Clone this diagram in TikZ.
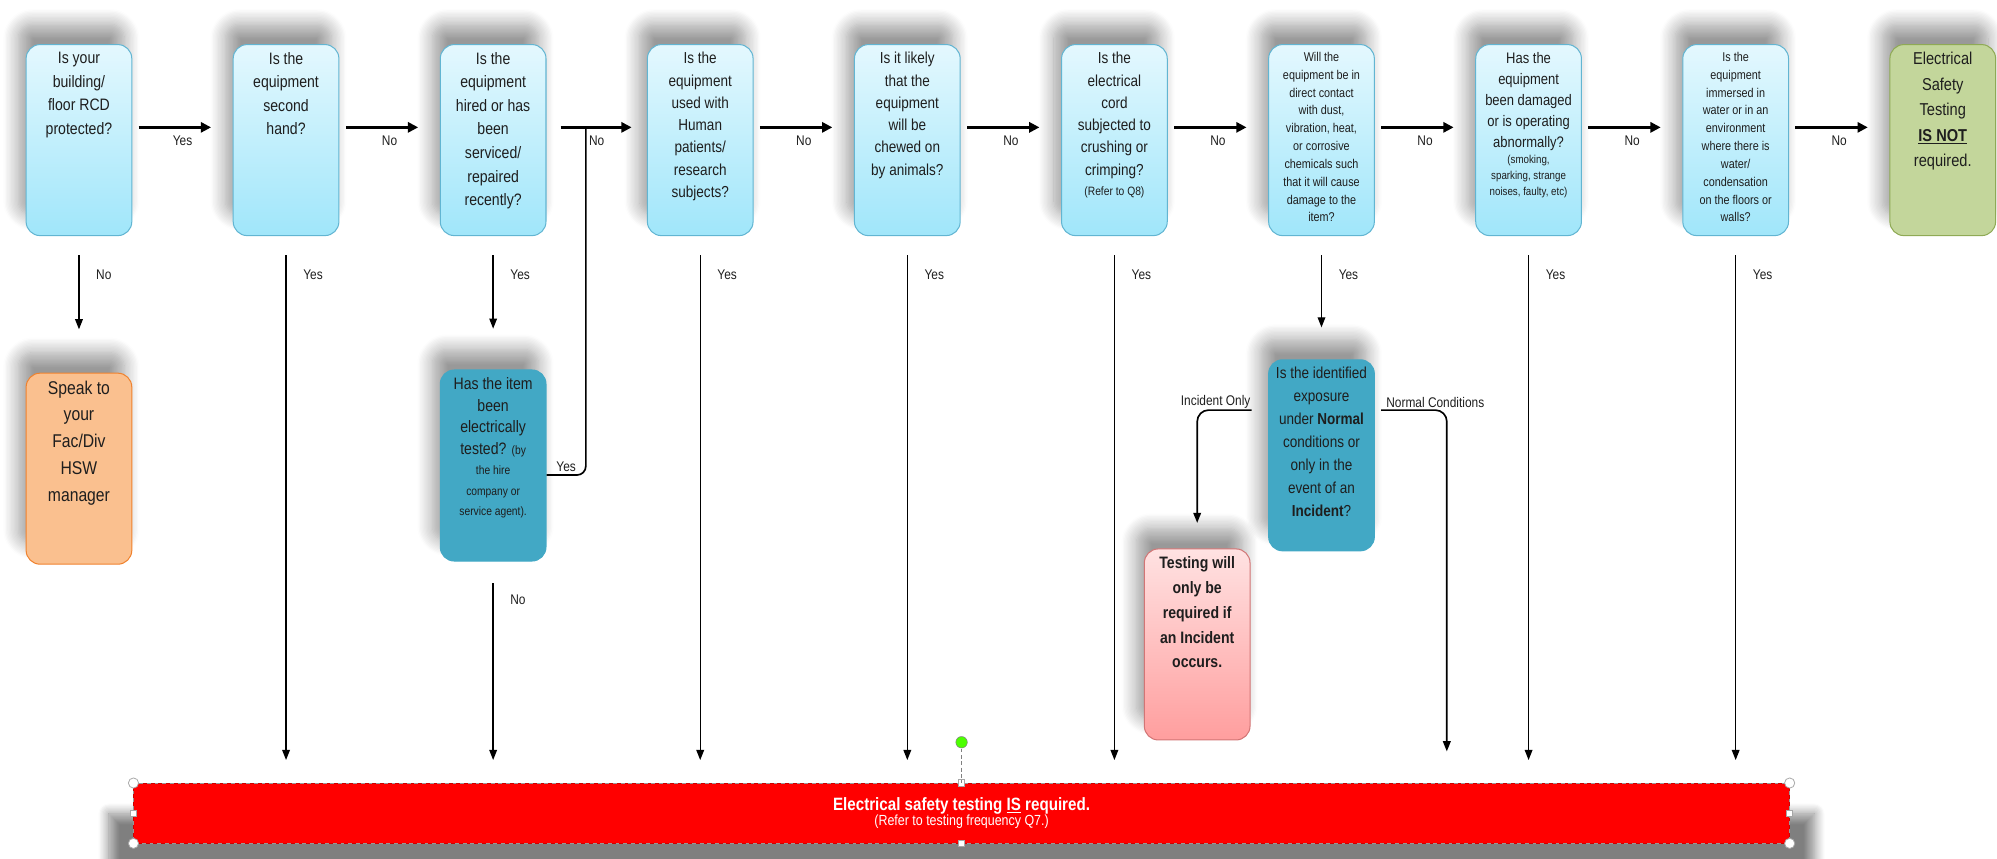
\documentclass[tikz,border=0pt]{standalone}
\usepackage{fontspec}
\setmainfont{Liberation Sans}[FakeStretch=0.85]
\usetikzlibrary{arrows.meta,shadows.blur}

\definecolor{qtop}{HTML}{E4F8FE}
\definecolor{qbottom}{HTML}{A0E6FA}
\definecolor{qedge}{HTML}{62B5D2}
\definecolor{tealfill}{HTML}{42A8C5}
\definecolor{orangefill}{HTML}{FAC08F}
\definecolor{orangeedge}{HTML}{F0822E}
\definecolor{greenfill}{HTML}{C3D69B}
\definecolor{greenedge}{HTML}{8FAA55}
\definecolor{pinktop}{HTML}{FFE2E2}
\definecolor{pinkbottom}{HTML}{FF9E9E}
\definecolor{pinkedge}{HTML}{D27575}
\definecolor{txt}{HTML}{1E1E1E}

\newcommand{\fsize}[2]{\fontsize{#1}{#2}\selectfont}
\newcommand{\boxtext}[1]{\parbox[c][138pt][t]{80pt}{\centering #1}}

\tikzset{
  boxshadow/.style={blur shadow={shadow xshift=-6pt, shadow yshift=16pt, shadow blur radius=12pt, shadow blur steps=12, shadow opacity=40}},
  basebox/.style={rectangle, rounded corners=11pt, line width=0.8pt, minimum width=83pt, minimum height=150pt, inner sep=0pt, text=txt, boxshadow},
  qbox/.style={basebox, draw=qedge, top color=qtop, bottom color=qbottom},
  tealbox/.style={basebox, draw=tealfill, fill=tealfill},
  orangebox/.style={basebox, draw=orangeedge, fill=orangefill},
  greenbox/.style={basebox, draw=greenedge, fill=greenfill},
  pinkbox/.style={basebox, draw=pinkedge, top color=pinktop, bottom color=pinkbottom},
  redbar/.style={rectangle, draw=red!80!black, fill=red, minimum width=1300pt, minimum height=47pt, text=white, align=center,
    blur shadow={shadow xshift=0pt, shadow yshift=-24pt, shadow scale=1.03, shadow blur radius=8pt, shadow blur steps=10, shadow opacity=50}},
  lbl/.style={font=\fsize{11}{13}, text=txt, inner sep=1pt},
  downlbl/.style={lbl, at start, anchor=north west, xshift=12pt, yshift=-25pt},
  nolbl/.style={lbl, midway, below=5pt},
  harrow/.style={line width=1.8pt, -{Triangle[length=8pt,width=8pt]}, shorten <=5pt, shorten >=17pt},
  varrow/.style={line width=1.1pt, -{Triangle[length=8pt,width=6pt]}, shorten <=15pt, shorten >=18pt},
  joinline/.style={line width=1.3pt},
  handle/.style={draw=gray!70, fill=white, line width=0.6pt}
}

\begin{document}
\begin{tikzpicture}[x=1pt, y=-1pt]
    \useasboundingbox (0,0) rectangle (1568,674);

    % Question boxes
    \node[qbox, font=\fsize{13}{18.5}] (q1) at (62,110) {\boxtext{Is your\\building/\\floor RCD\\protected?}};
    \node[qbox, font=\fsize{13}{18.5}] (q2) at (224.6,110) {\boxtext{Is the\\equipment\\second\\hand?}};
    \node[qbox, font=\fsize{13}{18.5}] (q3) at (387.2,110) {\boxtext{Is the\\equipment\\hired or has\\been\\serviced/\\repaired\\recently?}};
    \node[qbox, font=\fsize{12.5}{17.5}] (q4) at (549.8,110) {\boxtext{Is the\\equipment\\used with\\Human\\patients/\\research\\subjects?}};
    \node[qbox, font=\fsize{12.5}{17.5}] (q5) at (712.4,110) {\boxtext{Is it likely\\that the\\equipment\\will be\\chewed on\\by animals?}};
    \node[qbox, font=\fsize{12.5}{17.5}] (q6) at (875,110) {\boxtext{Is the\\electrical\\cord\\subjected to\\crushing or\\crimping?\par{\fsize{9.5}{16}(Refer to Q8)\par}}};
    \node[qbox, font=\fsize{10}{14}] (q7) at (1037.6,110) {\boxtext{Will the\\equipment be in\\direct contact\\with dust,\\vibration, heat,\\or corrosive\\chemicals such\\that it will cause\\damage to the\\item?}};
    \node[qbox, font=\fsize{12}{16.5}] (q8) at (1200.2,110) {\boxtext{Has the\\equipment\\been damaged\\or is operating\\abnormally?\par{\fsize{9}{12.5}(smoking,\\sparking, strange\\noises, faulty, etc)\par}}};
    \node[qbox, font=\fsize{10}{14}] (q9) at (1362.8,110) {\boxtext{Is the\\equipment\\immersed in\\water or in an\\environment\\where there is\\water/\\condensation\\on the floors or\\walls?}};
    \node[greenbox, font=\fsize{13.5}{20}] (q10) at (1525.4,110) {\boxtext{Electrical\\Safety\\Testing\\\textbf{\underline{IS NOT}}\\required.}};

    % Lower boxes
    \node[orangebox, font=\fsize{14.5}{21}] (o1) at (62,368) {\boxtext{Speak to\\your\\Fac/Div\\HSW\\manager}};
    \node[tealbox, font=\fsize{13}{17}] (h1) at (387.2,365.5) {\boxtext{Has the item\\been\\electrically\\tested? {\fsize{9.5}{17}(by}\par{\fsize{9.5}{16}the hire\\company or\\service agent).\par}}};
    \node[tealbox, font=\fsize{12.5}{18}] (e1) at (1037.6,357.5) {\boxtext{Is the identified\\exposure\\under \textbf{Normal}\\conditions or\\only in the\\event of an\\\textbf{Incident}?}};
    \node[pinkbox, font=\fsize{13}{19.5}\bfseries] (p1) at (940,506) {\boxtext{Testing will\\only be\\required if\\an Incident\\occurs.}};

    % Result bar
    \node[redbar] (bar) at (755,638.5) {{\fsize{14}{16}\bfseries Electrical safety testing \underline{IS} required.}\\{\fsize{11.5}{13}(Refer to testing frequency Q7.)}};

    \coordinate (j34) at (460,100);
    \coordinate (nc) at (1136,615);

    % Edges along the top row
    \draw[harrow] ([yshift=10pt]q1.east) -- ([yshift=10pt]q2.west) node[nolbl]{Yes};
    \draw[harrow] ([yshift=10pt]q2.east) -- ([yshift=10pt]q3.west) node[nolbl]{No};
    \draw[harrow, shorten <=11pt, shorten >=12pt] ([yshift=10pt]q3.east) -- ([yshift=10pt]q4.west) node[nolbl]{No};
    \draw[harrow] ([yshift=10pt]q4.east) -- ([yshift=10pt]q5.west) node[nolbl]{No};
    \draw[harrow] ([yshift=10pt]q5.east) -- ([yshift=10pt]q6.west) node[nolbl]{No};
    \draw[harrow] ([yshift=10pt]q6.east) -- ([yshift=10pt]q7.west) node[nolbl]{No};
    \draw[harrow] ([yshift=10pt]q7.east) -- ([yshift=10pt]q8.west) node[nolbl]{No};
    \draw[harrow] ([yshift=10pt]q8.east) -- ([yshift=10pt]q9.west) node[nolbl]{No};
    \draw[harrow] ([yshift=10pt]q9.east) -- ([yshift=10pt]q10.west) node[nolbl]{No};

    % Edges going down
    \draw[varrow, shorten >=34pt] (q1) -- (o1) node[downlbl]{No};
    \draw[varrow] (q2) -- (q2 |- bar.north) node[downlbl]{Yes};
    \draw[varrow, shorten >=32pt] (q3) -- (h1) node[downlbl]{Yes};
    \draw[varrow, shorten <=17pt] (h1) -- (h1 |- bar.north) node[downlbl]{No};
    \draw[joinline, rounded corners=7pt] ([yshift=-7.5pt]h1.east) -| (j34) node[lbl, pos=0.25, above=1pt]{Yes};
    \draw[varrow] (q4) -- (q4 |- bar.north) node[downlbl]{Yes};
    \draw[varrow] (q5) -- (q5 |- bar.north) node[downlbl]{Yes};
    \draw[varrow] (q6) -- (q6 |- bar.north) node[downlbl]{Yes};
    \draw[varrow, shorten >=25pt] (q7) -- (e1) node[downlbl]{Yes};
    \draw[varrow] (q8) -- (q8 |- bar.north) node[downlbl]{Yes};
    \draw[varrow] (q9) -- (q9 |- bar.north) node[downlbl]{Yes};

    % Exposure branches
    \draw[varrow, joinline, rounded corners=9pt, shorten <=13pt, shorten >=20pt] ([yshift=35.5pt]e1.west) -| (p1) node[lbl, pos=0.37, above=0pt]{Incident Only};
    \draw[varrow, joinline, rounded corners=9pt, shorten <=5pt, shorten >=25pt] ([yshift=35.5pt]e1.east) -| (nc) node[lbl, pos=0.42, above=0pt]{Normal Conditions};

    % Selection handles on the bar
    \draw[gray!80, dashed, line width=0.8pt] (bar.north west) rectangle (bar.south east);
    \foreach \c in {north west, north east, south west, south east}
        \draw[handle] (bar.\c) circle (4pt);
    \foreach \c in {north, south, west, east}
        \draw[handle] ([xshift=-2.5pt, yshift=-2.5pt]bar.\c) rectangle ++(5pt,5pt);
    \coordinate (rot) at ([yshift=32pt]bar.north);
    \draw[gray, densely dashed, line width=0.6pt] (rot) -- (bar.north);
    \draw[draw=gray, fill=green!70!yellow] (rot) circle (4.5pt);

\end{tikzpicture}
\end{document}
